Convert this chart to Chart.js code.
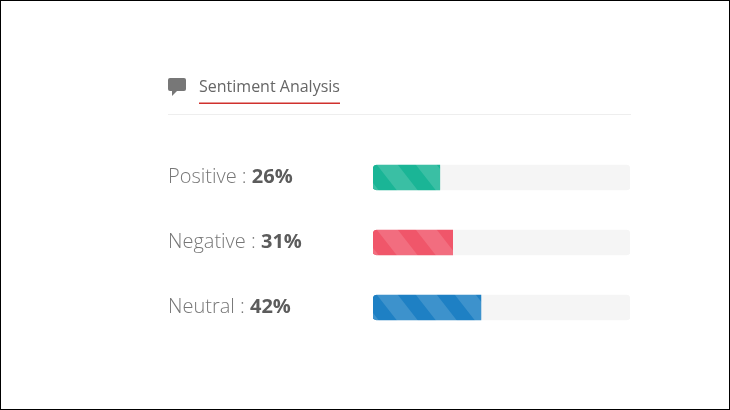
<!DOCTYPE html>
<html>
<head>
<meta charset="utf-8">
<title>Sentiment Analysis</title>
<script src="https://cdn.jsdelivr.net/npm/chart.js@4"></script>
<style>
    html, body { margin: 0; padding: 0; background: #fff; }
    #wrap { position: relative; width: 730px; height: 410px; box-sizing: border-box; border: 1px solid #000; overflow: hidden; }
    #chart { position: absolute; left: -1px; top: -1px; }
</style>
</head>
<body>
<div id="wrap"><canvas id="chart" width="730" height="410"></canvas></div>
<script>
// Chart data
const title = 'Sentiment Analysis';
const categories = ['Positive', 'Negative', 'Neutral'];
const values = [26, 31, 42];
const trackValues = [100, 100, 100];
const barColors = ['#1ab596', '#f0566a', '#1e80c4'];

// Diagonal stripes laid over the bar colour, anchored on each bar's top left corner
function stripes(color, i) {
    const w = 39;
    const h = 50;
    const tile = document.createElement('canvas');
    tile.width = w;
    tile.height = h;
    const c = tile.getContext('2d');
    c.fillStyle = color;
    c.fillRect(0, 0, w, h);
    c.fillStyle = 'rgba(255, 255, 255, 0.14)';
    [-w, 0, w].forEach(dx => {
        c.beginPath();
        c.moveTo(dx + 4, 0);
        c.lineTo(dx + 25, 0);
        c.lineTo(dx + 25 + w, h);
        c.lineTo(dx + 4 + w, h);
        c.closePath();
        c.fill();
    });
    const pattern = document.createElement('canvas').getContext('2d').createPattern(tile, 'repeat');
    pattern.setTransform(new DOMMatrix().translate(373, 165 + 65 * i));
    return pattern;
}

// Heading, labels and percentages
const textPlugin = {
    id: 'sentimentText',
    afterDraw(chart) {
        const ctx = chart.ctx;
        const y = chart.scales.y;
        ctx.save();
        ctx.textBaseline = 'alphabetic';

        // Icon
        ctx.fillStyle = '#777777';
        ctx.beginPath();
        ctx.roundRect(168, 78, 18, 13, 2);
        ctx.fill();
        ctx.beginPath();
        ctx.moveTo(172, 90);
        ctx.lineTo(172, 96);
        ctx.lineTo(178, 90);
        ctx.closePath();
        ctx.fill();

        // Heading
        ctx.font = '400 16px "Open Sans"';
        ctx.fillStyle = '#666666';
        ctx.fillText(title, 199, 92);
        ctx.fillStyle = '#eeeeee';
        ctx.fillRect(168, 114, 463, 1);
        ctx.fillStyle = '#d0312d';
        ctx.fillRect(199, 102.5, 141, 1.5);

        // Row labels
        categories.forEach((name, i) => {
            const py = y.getPixelForValue(i) + 5.5;
            const label = name + ' : ';
            ctx.font = '300 20px "Open Sans"';
            ctx.fillStyle = '#777777';
            ctx.fillText(label, 168, py);
            const w = ctx.measureText(label).width;
            ctx.font = '700 20px "Open Sans"';
            ctx.fillStyle = '#5c5c5c';
            ctx.fillText(values[i] + '%', 168 + w, py);
        });
        ctx.restore();
    }
};

new Chart(document.getElementById('chart').getContext('2d'), {
    type: 'bar',
    data: {
        labels: categories,
        datasets: [
            {
                data: values,
                backgroundColor: barColors.map(stripes),
                barThickness: 25,
                borderRadius: { topLeft: 4, bottomLeft: 4, topRight: 0, bottomRight: 0 },
                borderSkipped: false,
                order: 1
            },
            {
                data: trackValues,
                backgroundColor: '#f5f5f5',
                barThickness: 25,
                borderRadius: 4,
                borderSkipped: false,
                order: 2
            }
        ]
    },
    options: {
        indexAxis: 'y',
        responsive: false,
        animation: false,
        layout: { padding: { left: 373, right: 100, top: 145, bottom: 70 } },
        datasets: { bar: { grouped: false } },
        plugins: { legend: { display: false }, tooltip: { enabled: false } },
        scales: {
            x: { display: false, min: 0, max: 100 },
            y: { display: false }
        }
    },
    plugins: [textPlugin]
});
</script>
</body>
</html>
